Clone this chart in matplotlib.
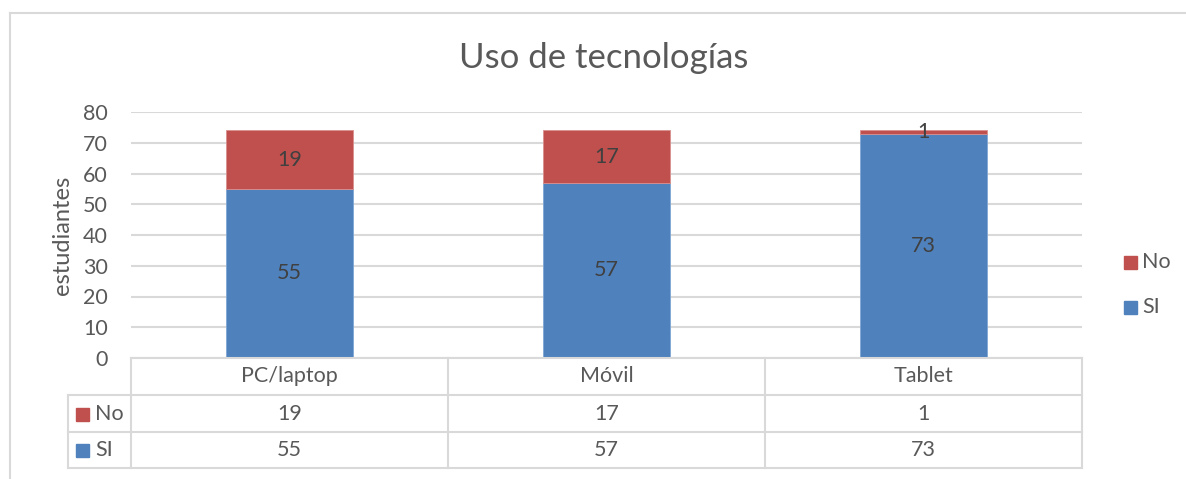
import matplotlib
matplotlib.use('Agg')
from matplotlib import pyplot as plt
from matplotlib.lines import Line2D
from matplotlib.patches import Rectangle

# data
categories = ['PC/laptop', 'Móvil', 'Tablet']
si_vals = [55, 57, 73]
no_vals = [19, 17, 1]
series_names = ['No', 'SI']
yticks = [0, 10, 20, 30, 40, 50, 60, 70, 80]

blue = '#4f81bd'
red = '#c0504d'
grey_txt = '#595959'
grid_col = '#d9d9d9'
fs = 15.5

plt.rcParams['font.family'] = ['Lato', 'DejaVu Sans']

W, H = 1186, 479
fig = plt.figure(figsize=(W / 100, H / 100), dpi=100)

def fx(px):
    return px / W

def fy(py):
    return 1 - py / H

# outer chart border (top and left visible)
fig.add_artist(Line2D([fx(10), fx(10)], [fy(13), 0], color=grid_col, lw=1.5))
fig.add_artist(Line2D([fx(10), 1], [fy(13), fy(13)], color=grid_col, lw=1.5))

# main axes
x0, x1, ytop, ybot = 131, 1082, 112, 358
ax = fig.add_axes([fx(x0), fy(ybot), fx(x1 - x0), (ybot - ytop) / H])
pos = list(range(len(categories)))
ax.bar(pos, si_vals, width=0.4, color=blue, edgecolor='#7fa6d4', lw=0.6, zorder=3)
ax.bar(pos, no_vals, width=0.4, bottom=si_vals, color=red, edgecolor='#d9908e', lw=0.6, zorder=3)
ax.set_xlim(-0.5, 2.5)
ax.set_ylim(0, 80)
ax.set_yticks(yticks)
ax.set_xticks([])
ax.yaxis.grid(True, color=grid_col, lw=1.5, zorder=0)
for s in ax.spines.values():
    s.set_visible(False)
ax.tick_params(axis='y', length=0, pad=16.5, labelsize=fs, labelcolor=grey_txt)
ax.set_ylabel('estudiantes', fontsize=17, color=grey_txt)
ax.yaxis.set_label_coords((73 - x0) / (x1 - x0), 0.5)

for i in pos:
    ax.text(i, si_vals[i] / 2, str(si_vals[i]), ha='center', va='center',
            fontsize=fs, color='#404040', zorder=4)
    ax.text(i, si_vals[i] + no_vals[i] / 2, str(no_vals[i]), ha='center', va='center',
            fontsize=fs, color='#404040', zorder=4)

# title
fig.text(fx(604), fy(58), 'Uso de tecnologías', ha='center', va='center',
         fontsize=25, color=grey_txt)

# legend on the right
for name, col, py in [('No', red, 262), ('SI', blue, 307)]:
    fig.add_artist(Rectangle((fx(1124), fy(py + 7)), fx(13), 13 / H, color=col))
    fig.text(fx(1142), fy(py), name, ha='left', va='center', fontsize=fs, color=grey_txt)

# data table below the plot
cols = [131, 448, 765, 1082]
rows = [358, 395, 432, 468]
left = 68
lc = dict(color=grid_col, lw=1.5)
fig.add_artist(Line2D([fx(cols[0]), fx(cols[-1])], [fy(rows[0])] * 2, **lc))
for r in rows[1:]:
    fig.add_artist(Line2D([fx(left), fx(cols[-1])], [fy(r)] * 2, **lc))
for c in cols:
    fig.add_artist(Line2D([fx(c)] * 2, [fy(rows[0]), fy(rows[-1])], **lc))
fig.add_artist(Line2D([fx(left)] * 2, [fy(rows[1]), fy(rows[-1])], **lc))

for j, cat in enumerate(categories):
    cx = (cols[j] + cols[j + 1]) / 2
    fig.text(fx(cx), fy((rows[0] + rows[1]) / 2), cat, ha='center', va='center',
             fontsize=fs, color=grey_txt)
    fig.text(fx(cx), fy((rows[1] + rows[2]) / 2), str(no_vals[j]), ha='center',
             va='center', fontsize=fs, color=grey_txt)
    fig.text(fx(cx), fy((rows[2] + rows[3]) / 2), str(si_vals[j]), ha='center',
             va='center', fontsize=fs, color=grey_txt)

for k, (name, col) in enumerate([('No', red), ('SI', blue)]):
    cy = (rows[k + 1] + rows[k + 2]) / 2
    fig.add_artist(Rectangle((fx(76), fy(cy + 7)), fx(13), 13 / H, color=col))
    fig.text(fx(95), fy(cy), name, ha='left', va='center', fontsize=fs, color=grey_txt)

fig.savefig('out.png', dpi=100)
